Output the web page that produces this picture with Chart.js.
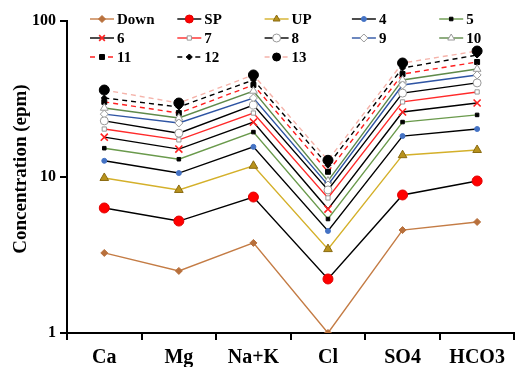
<!DOCTYPE html>
<html>
<head>
<meta charset="utf-8">
<script src="https://cdn.jsdelivr.net/npm/chart.js@4/dist/chart.umd.min.js"></script>
<style>
  html, body { margin: 0; padding: 0; background: #fff; }
  #wrap { width: 521px; height: 367px; position: relative; }
</style>
</head>
<body>
<div id="wrap"><canvas id="ionChart"></canvas></div>
<script>
// ion categories (x axis)
const ions = ["Ca", "Mg", "Na+K", "Cl", "SO4", "HCO3"];
const yTicks = [1, 10, 100];

// concentrations in epm
const sDown = [3.26, 2.50, 3.78, 1.00, 4.57, 5.15];
const sSP   = [6.33, 5.22, 7.44, 2.22, 7.67, 9.43];
const sUP   = [9.86, 8.26, 11.8, 3.45, 13.8, 14.9];
const s4    = [12.7, 10.6, 15.6, 4.51, 18.3, 20.3];
const s5    = [15.3, 13.0, 19.4, 5.38, 22.5, 25.0];
const s6    = [18.0, 15.1, 22.5, 6.23, 26.1, 29.8];
const s7    = [20.3, 17.3, 25.7, 7.34, 30.3, 35.1];
const s8    = [22.9, 19.1, 28.9, 8.26, 34.5, 40.1];
const s9    = [25.3, 22.2, 32.1, 8.89, 38.9, 45.1];
const s10   = [27.7, 23.9, 35.6, 9.43, 41.9, 49.2];
const s11   = [30.3, 25.7, 38.9, 10.8, 45.7, 54.6];
const s12   = [32.1, 28.1, 41.9, 11.9, 50.0, 60.5];
const s13   = [36.1, 29.8, 45.1, 12.8, 53.8, 64.2];

const serif = "'Liberation Serif', 'Times New Roman', serif";

function ds(label, data, line, style, radius, fill, border, dash) {
    return {
        label: label,
        data: data,
        borderColor: line,
        borderWidth: 1.4,
        borderDash: dash || [],
        pointStyle: style,
        pointRadius: radius,
        pointHoverRadius: radius,
        pointBackgroundColor: fill,
        pointBorderColor: border,
        pointBorderWidth: 1,
        tension: 0,
        fill: false
    };
}

const sets = [
    ds("Down", sDown, "#c47c45", "rectRot", 3.5, "#b8703c", "#b8703c"),
    ds("SP", sSP, "#000000", "circle", 5, "#ff0000", "#e00000"),
    ds("UP", sUP, "#d4b02a", "triangle", 5, "#b8921c", "#8a6a10"),
    ds("4", s4, "#000000", "circle", 2.5, "#4472c4", "#4472c4"),
    ds("5", s5, "#6a9a4c", "rect", 2.5, "#000000", "#000000"),
    ds("6", s6, "#000000", "crossRot", 5, "#ff2020", "#ff2020"),
    ds("7", s7, "#ff2a2a", "rect", 3, "#ffffff", "#999999"),
    ds("8", s8, "#000000", "circle", 4, "#ffffff", "#999999"),
    ds("9", s9, "#2f55a4", "rectRot", 4, "#ffffff", "#999999"),
    ds("10", s10, "#5f8a4a", "triangle", 4.5, "#ffffff", "#999999"),
    ds("11", s11, "#ff2020", "rect", 3.5, "#000000", "#000000", [5, 4]),
    ds("12", s12, "#000000", "rectRot", 3, "#000000", "#000000", [5, 4]),
    ds("13", s13, "#f5b3aa", "circle", 5, "#000000", "#000000", [5, 4])
];
sets[5].pointBorderWidth = 1.6;

// legend drawn inside the plot, 5 columns x 3 rows, plus the y title
const gridLegend = {
    id: "gridLegend",
    afterDraw(chart) {
        const ctx = chart.ctx;
        const drawPoint = Chart.helpers && Chart.helpers.drawPoint;
        ctx.save();
        chart.data.datasets.forEach((d, i) => {
            const col = i % 5, row = Math.floor(i / 5);
            const x = 90 + col * 87.3;
            const y = 19 + row * 19;
            ctx.strokeStyle = d.borderColor;
            ctx.lineWidth = 1.4;
            ctx.setLineDash(d.borderDash);
            ctx.beginPath();
            ctx.moveTo(x, y);
            ctx.lineTo(x + 24, y);
            ctx.stroke();
            ctx.setLineDash([]);
            if (drawPoint) {
                ctx.fillStyle = d.pointBackgroundColor;
                ctx.strokeStyle = d.pointBorderColor;
                ctx.lineWidth = d.pointBorderWidth;
                drawPoint(ctx, { pointStyle: d.pointStyle, radius: Math.min(d.pointRadius, 4), rotation: 0, borderWidth: d.pointBorderWidth }, x + 12, y);
            }
            ctx.fillStyle = "#000";
            ctx.font = "bold 15px " + serif;
            ctx.textBaseline = "middle";
            ctx.textAlign = "left";
            ctx.fillText(d.label, x + 27, y + 1);
        });
        // y axis title
        ctx.translate(21, 169);
        ctx.rotate(-Math.PI / 2);
        ctx.font = "bold 19px " + serif;
        ctx.textAlign = "center";
        ctx.textBaseline = "middle";
        ctx.fillStyle = "#000";
        ctx.fillText("Concentration (epm)", 0, 0);
        ctx.restore();
    }
};

new Chart(document.getElementById("ionChart"), {
    type: "line",
    data: {
        labels: ions,
        datasets: sets
    },
    options: {
        responsive: true,
        maintainAspectRatio: false,
        animation: false,
        layout: { padding: { top: 21, right: -11, left: 0, bottom: 0 } },
        plugins: {
            legend: { display: false },
            tooltip: { enabled: false }
        },
        scales: {
            x: {
                type: "category",
                offset: true,
                grid: {
                    offset: true,
                    drawOnChartArea: false,
                    drawTicks: true,
                    tickLength: 7,
                    color: "#000",
                    lineWidth: 2
                },
                border: { color: "#000", width: 2 },
                ticks: {
                    color: "#000",
                    padding: 6,
                    font: { family: serif, size: 20, weight: "bold" }
                },
                afterFit(scale) { scale.height = 34; }
            },
            y: {
                type: "logarithmic",
                min: 1,
                max: 100,
                grid: {
                    drawOnChartArea: false,
                    drawTicks: true,
                    tickLength: 7,
                    color: "#000",
                    lineWidth: 2
                },
                border: { color: "#000", width: 2 },
                afterBuildTicks(scale) {
                    scale.ticks = yTicks.map(v => ({ value: v }));
                },
                ticks: {
                    color: "#000",
                    padding: 4,
                    font: { family: serif, size: 16, weight: "bold" },
                    callback: v => String(v)
                },
                afterFit(scale) { scale.width = 67; }
            }
        }
    },
    plugins: [gridLegend]
});
</script>
</body>
</html>
